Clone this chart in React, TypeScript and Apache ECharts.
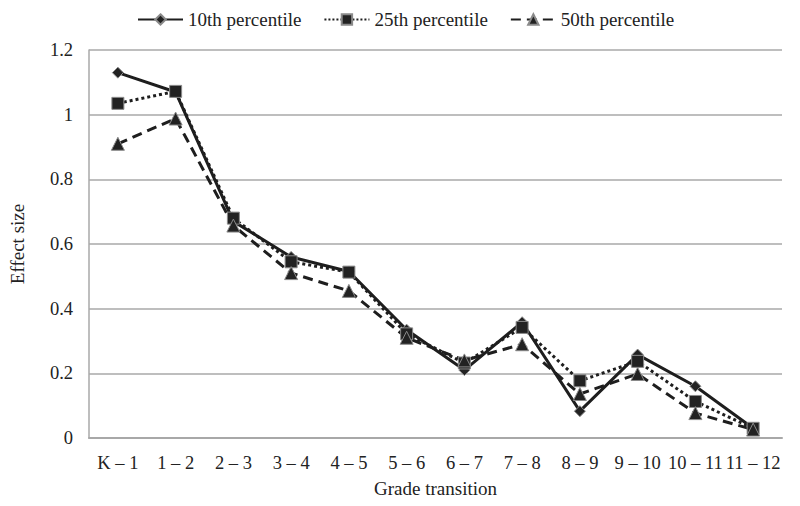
import React, { useEffect, useRef } from "react";
import * as echarts from "echarts";

const categories = ["K – 1", "1 – 2", "2 – 3", "3 – 4", "4 – 5", "5 – 6", "6 – 7", "7 – 8", "8 – 9", "9 – 10", "10 – 11", "11 – 12"];
const p10 = [1.13, 1.07, 0.67, 0.56, 0.515, 0.335, 0.21, 0.358, 0.083, 0.258, 0.16, 0.03];
const p25 = [1.035, 1.072, 0.68, 0.545, 0.513, 0.322, 0.232, 0.342, 0.177, 0.237, 0.113, 0.03];
const p50 = [0.91, 0.988, 0.657, 0.51, 0.455, 0.31, 0.24, 0.29, 0.136, 0.198, 0.077, 0.026];
const yTicks = [0, 0.2, 0.4, 0.6, 0.8, 1, 1.2];

const FONT = "Liberation Serif";
const LINE = "#1e1e1e";
const FS = 18.5;

export default function App() {
  const ref = useRef<HTMLDivElement>(null);
  useEffect(() => {
    if (!ref.current) return;
    const chart = echarts.init(ref.current, undefined, { renderer: "svg" });
    const mk = (name: string, data: number[], type: any, symbol: string, size: number) => ({
      name,
      type: "line",
      data,
      symbol,
      symbolSize: size,
      lineStyle: { color: LINE, width: 3, type },
      itemStyle: { color: "#222", borderColor: "#8a8a8a", borderWidth: 1 },
      z: 3,
    });
    chart.setOption({
      animation: false,
      textStyle: { fontFamily: FONT },
      legend: {
        left: 132,
        top: 5,
        itemWidth: 45,
        itemHeight: 13,
        itemGap: 22,
        textStyle: { fontFamily: FONT, fontSize: 19, color: "#222" },
        data: ["10th percentile", "25th percentile", "50th percentile"],
      },
      grid: { left: 89, right: 18, top: 50, bottom: 68, outerBoundsMode: "none", containLabel: false },
      xAxis: {
        type: "category",
        data: categories,
        boundaryGap: true,
        name: "Grade transition",
        nameLocation: "middle",
        nameGap: 41,
        nameTextStyle: { fontFamily: FONT, fontSize: 19, color: "#222" },
        axisLine: { lineStyle: { color: "#a8a8a8", width: 2 } },
        axisTick: { show: false },
        axisLabel: { fontFamily: FONT, fontSize: FS, color: "#222", margin: 15, interval: 0 },
      },
      yAxis: {
        type: "value",
        min: yTicks[0],
        max: yTicks[yTicks.length - 1],
        interval: 0.2,
        name: "Effect size",
        nameLocation: "middle",
        nameGap: 62,
        nameTextStyle: { fontFamily: FONT, fontSize: 19, color: "#222" },
        axisLine: { show: true, lineStyle: { color: "#a8a8a8", width: 1.5 } },
        axisTick: { show: false },
        axisLabel: {
          fontFamily: FONT,
          fontSize: FS,
          color: "#222",
          margin: 16,
          formatter: (v: number) => String(Math.round(v * 10) / 10),
        },
        splitLine: { lineStyle: { color: "#a8a8a8", width: 1.5 } },
      },
      series: [
        mk("10th percentile", p10, "solid", "diamond", 11),
        mk("25th percentile", p25, "dotted", "rect", 12),
        mk("50th percentile", p50, [10, 6], "triangle", 13),
      ],
    });
    return () => chart.dispose();
  }, []);
  return <div ref={ref} style={{ width: 800, height: 506, position: "absolute", left: 0, top: 0 }} />;
}
